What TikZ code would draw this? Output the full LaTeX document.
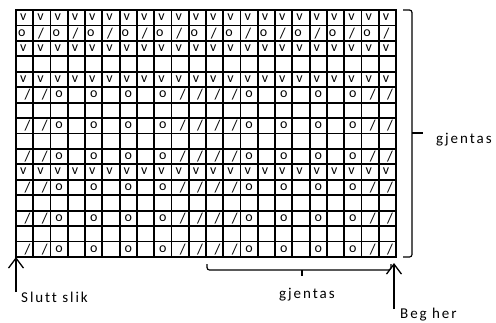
\documentclass[tikz,border=0pt]{standalone}
\usepackage{fontspec}
\setmainfont{Carlito}
\newfontfamily\lblfont[LetterSpace=13,Ligatures=NoCommon]{Carlito}
\usetikzlibrary{arrows.meta}
\newcommand\cw{17.2727}
\newcommand\rh{15.4375}
% cell symbols: #1 column, #2 row, #3 horizontal position in cell
\newcommand\mkv[2]{\node[sym] (v-#1-#2) at ({16+(#1-1+0.42)*\cw},{10+(#2-1+0.47)*\rh}) {v};}
\newcommand\mko[3]{\node[sym] (o-#1-#2) at ({16+(#1-1+#3)*\cw},{10+(#2-1+0.47)*\rh}) {o};}
\newcommand\mks[3]{\node[slash] (s-#1-#2) at ({16+(#1-1+#3)*\cw},{10+(#2-1+0.5)*\rh}) {/};}
\begin{document}
\begin{tikzpicture}[x=1pt,y=-1pt,
  gridline/.style={line width=1.8pt,line cap=rect},
  sym/.style={inner sep=0pt,font=\fontsize{14}{15}\selectfont},
  slash/.style={inner sep=0pt,font=\fontsize{15}{16}\selectfont},
  lbl/.style={inner sep=0pt,font=\lblfont\fontsize{15}{18}\selectfont},
  bracket/.style={line width=1.2pt,rounded corners=2.5pt},
  arr/.style={line width=1.3pt,-{Straight Barb[length=10pt,width=15pt,line width=1.3pt]}}]
\useasboundingbox (0,0) rectangle (496,322);
\fill[white] (0,0) rectangle (496,322);
% grid lines
\foreach \i in {0,...,22} \draw[gridline] ({16+\i*\cw},10) -- ({16+\i*\cw},257);
\foreach \j in {0,...,16} \draw[gridline] (16,{10+\j*\rh}) -- (396,{10+\j*\rh});
% rows of v
\foreach \r in {1,3,5,11} {\foreach \c in {1,...,22} {\mkv{\c}{\r}}}
% row 2: o / alternating
\foreach \c in {1,3,...,21} {\mko{\c}{2}{0.33}}
\foreach \c in {2,4,...,22} {\mks{\c}{2}{0.45}}
% pattern rows
\foreach \r in {6,8,10,12,14,16} {
  \foreach \c in {1,2,10,11,12,13,21,22} {\mks{\c}{\r}{0.66}}
  \foreach \c in {3,5,7,9,14,16,18,20} {\mko{\c}{\r}{0.5}}
}
% right bracket
\draw[bracket] (403,10) -- (412,10) -- (412,257) -- (403,257);
\draw[line width=1.2pt] (412,133) -- (423,133);
\node[lbl,anchor=base west] (gjentasR) at (436,143) {gjentas};
% bottom bracket
\draw[bracket] (207,264) -- (207,270) -- (391,270) -- (391,264);
\draw[line width=1.2pt] (302,270) -- (302,276);
\node[lbl,anchor=base west] (gjentasB) at (279,298.5) {gjentas};
% arrows
\coordinate (sluttTip) at (16,257);
\coordinate (sluttEnd) at (16,292);
\draw[arr] (sluttEnd) -- (sluttTip);
\node[lbl,anchor=base west] (slutt) at (21,302) {Slutt slik};
\coordinate (begTip) at (394,263);
\coordinate (begEnd) at (394,309);
\draw[arr] (begEnd) -- (begTip);
\node[lbl,anchor=base west] (beg) at (400,318) {Beg her};
\end{tikzpicture}
\end{document}
